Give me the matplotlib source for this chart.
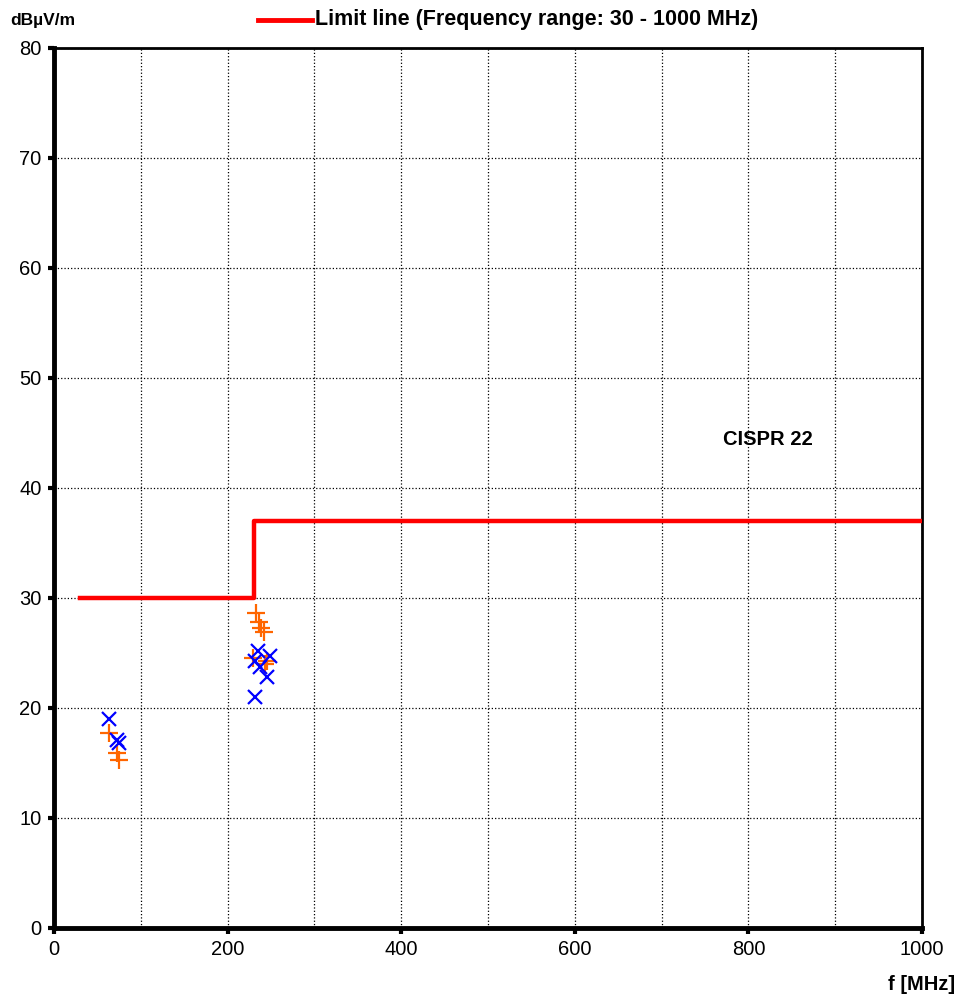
import matplotlib
matplotlib.use('Agg')
import matplotlib.pyplot as plt

plt.rcParams['font.family'] = ['Liberation Sans', 'DejaVu Sans']

# limit line (CISPR 22)
limit_f = [30, 230, 230, 1000]
limit_db = [30, 30, 37, 37]

# peak (orange +) and quasi-peak (blue x) readings
plus_f = [63.7, 72.2, 75.2, 232.7, 236.5, 239.0, 241.5, 229.6, 245.0, 243.5]
plus_db = [17.7, 15.9, 15.3, 28.6, 27.8, 27.3, 26.9, 24.5, 24.3, 24.0]
cross_f = [63.7, 72.6, 75.2, 235.4, 248.8, 237.3, 245.0, 231.6, 231.0]
cross_db = [19.0, 17.1, 16.8, 25.2, 24.7, 23.7, 22.8, 21.0, 24.3]

fig = plt.figure(figsize=(9.61, 9.99), dpi=100)
ax = fig.add_axes([0.0562, 0.0711, 0.9032, 0.8809])

ax.plot(limit_f, limit_db, color='#ff0000', lw=3.2, zorder=3)
ax.plot(plus_f, plus_db, ls='none', marker='+', ms=13, mew=1.6, color='#ff6600', zorder=4)
ax.plot(cross_f, cross_db, ls='none', marker='x', ms=10, mew=1.6, color='#0000ff', zorder=5)

ax.set_xlim(0, 1000)
ax.set_ylim(0, 80)
ax.set_xticks(range(0, 1001, 200))
ax.set_xticks(range(100, 1000, 200), minor=True)
ax.set_yticks(range(0, 81, 10))
ax.grid(True, which='both', color='black', ls=':', lw=0.9)
ax.tick_params(labelsize=14.5, length=4, width=3, direction='out', pad=5)
ax.tick_params(which='minor', length=0)
ax.spines['left'].set_linewidth(3.5)
ax.spines['bottom'].set_linewidth(3.5)
ax.spines['top'].set_linewidth(2)
ax.spines['right'].set_linewidth(2)

ax.text(822, 44.4, 'CISPR 22', fontsize=14.5, fontweight='bold', ha='center', va='center')

fig.text(10 / 961, 1 - 20 / 999, 'dBµV/m', fontsize=12.5, fontweight='bold', va='center')
fig.text(315 / 961, 1 - 20 / 999, 'Limit line (Frequency range: 30 - 1000 MHz)',
         fontsize=15.5, fontweight='bold', va='center')
fig.add_artist(plt.Line2D([258 / 961, 312 / 961], [1 - 20 / 999, 1 - 20 / 999],
                          color='#ff0000', lw=3.5))
fig.text(955 / 961, 1 - 984 / 999, 'f [MHz]', fontsize=14.5, fontweight='bold',
         ha='right', va='center')

plt.savefig('out.png', dpi=100)
